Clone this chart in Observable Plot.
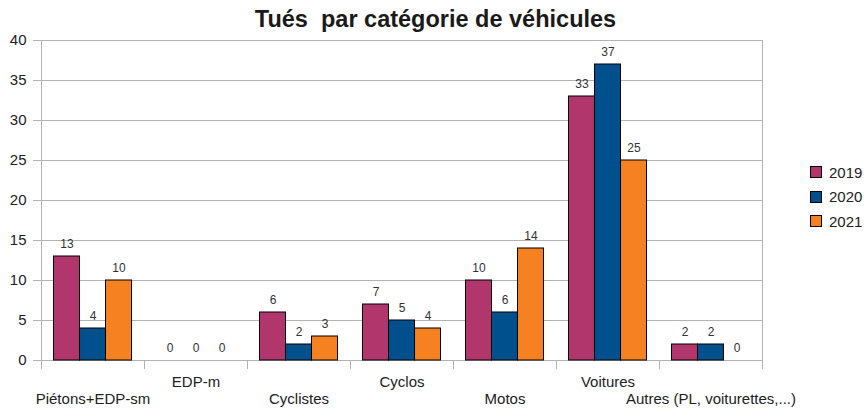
<!DOCTYPE html>
<html>
<head>
<meta charset="utf-8">
<script src="https://cdn.jsdelivr.net/npm/d3@7"></script>
<script src="https://cdn.jsdelivr.net/npm/@observablehq/plot@0.6"></script>
<style>
  body { margin: 0; background: #fff; font-family: "Liberation Sans", Arial, sans-serif; }
  #wrap { position: relative; width: 867px; height: 409px; overflow: hidden; }
  #title { position: absolute; left: 0; width: 867px; top: 6px; line-height: 27px; text-align: center; font-weight: bold; font-size: 23.5px; color: #1a1a1a; white-space: pre; padding-left: 4px; box-sizing: border-box; }
  #legend { position: absolute; left: 810px; top: 160px; font-size: 15px; color: #222; }
  .row { display: flex; align-items: center; height: 24.5px; }
  .sw { width: 10px; height: 10px; border: 1px solid #000; margin-right: 7px; }
  svg { position: absolute; left: 0; top: 0; }
</style>
</head>
<body>
<div id="wrap">
  <div id="title">Tués  par catégorie de véhicules</div>
  <div id="legend"></div>
</div>
<script>
const categories = ["Piétons+EDP-sm", "EDP-m", "Cyclistes", "Cyclos", "Motos", "Voitures", "Autres (PL, voiturettes,...)"];
const years = ["2019", "2020", "2021"];
const values2019 = [13, 0, 6, 7, 10, 33, 2];
const values2020 = [4, 0, 2, 5, 6, 37, 2];
const values2021 = [10, 0, 3, 4, 14, 25, 0];
const colors = ["#b0366b", "#00508e", "#f68121"];
const yTicks = [0, 5, 10, 15, 20, 25, 30, 35, 40];

const series = [values2019, values2020, values2021];
const data = [];
categories.forEach((c, i) => {
  years.forEach((y, j) => data.push({category: c, year: y, value: series[j][i]}));
});

const upper = categories.filter((d, i) => i % 2 === 1);
const lower = categories.filter((d, i) => i % 2 === 0);

const chart = Plot.plot({
  width: 867,
  height: 409,
  marginTop: 40,
  marginBottom: 49,
  marginLeft: 41,
  marginRight: 105,
  style: {fontFamily: "Liberation Sans, Arial, sans-serif", background: "transparent"},
  fx: {domain: categories, padding: 0, round: false},
  x: {domain: years, paddingInner: 0, paddingOuter: 0.48, round: false, axis: null},
  y: {domain: [0, 40], ticks: yTicks},
  color: {domain: years, range: colors},
  marks: [
    Plot.gridY(yTicks, {stroke: "#b3b3b3", strokeOpacity: 1}),
    Plot.frame({anchor: "left", stroke: "#b3b3b3", insetTop: 320, insetBottom: -8}),
    Plot.frame({anchor: "left", stroke: "#b3b3b3", facet: "super", insetBottom: -8}),
    Plot.frame({anchor: "right", stroke: "#b3b3b3", facet: "super", insetBottom: -8}),
    Plot.axisY(yTicks, {tickSize: 8, tickPadding: 7, stroke: "#b3b3b3", fill: "#222", fontSize: 15, label: null}),
    Plot.axisFx({anchor: "bottom", ticks: upper, tickSize: 0, tickPadding: 16, fontSize: 15, fill: "#222", label: null}),
    Plot.axisFx({anchor: "bottom", ticks: lower, tickSize: 0, tickPadding: 33, fontSize: 15, fill: "#222", label: null}),
    Plot.barY(data.filter(d => d.value > 0), {fx: "category", x: "year", y: "value", fill: "year", stroke: "#000", strokeWidth: 1}),
    Plot.text(data, {fx: "category", x: "year", y: "value", text: d => String(d.value), dy: -12, fontSize: 12, fill: "#333"})
  ]
});
document.getElementById("wrap").prepend(chart);

const legend = document.getElementById("legend");
years.forEach((y, j) => {
  const row = document.createElement("div");
  row.className = "row";
  const sw = document.createElement("div");
  sw.className = "sw";
  sw.style.background = colors[j];
  row.appendChild(sw);
  row.appendChild(document.createTextNode(y));
  legend.appendChild(row);
});
</script>
</body>
</html>
